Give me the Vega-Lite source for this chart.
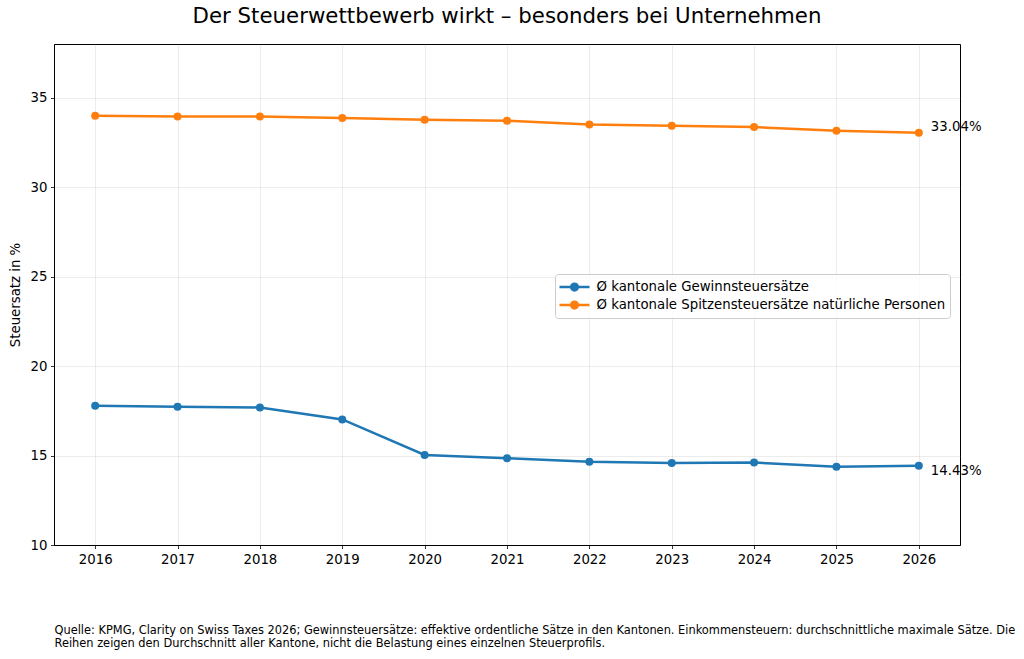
{
  "$schema": "https://vega.github.io/schema/vega-lite/v6.json",
  "width": 906,
  "height": 501,
  "autosize": {"type": "none"},
  "padding": {"left": 54, "top": 44, "right": 64, "bottom": 114},
  "background": "white",
  "title": {
    "text": "Der Steuerwettbewerb wirkt – besonders bei Unternehmen",
    "fontSize": 21.3,
    "font": "DejaVu Sans",
    "fontWeight": "normal",
    "anchor": "middle",
    "baseline": "alphabetic",
    "offset": 0,
    "color": "#000000"
  },
  "config": {
    "font": "DejaVu Sans",
    "view": {"stroke": "#000000", "strokeWidth": 1},
    "axis": {
      "domainColor": "#000000",
      "domainWidth": 1,
      "tickColor": "#000000",
      "tickWidth": 0.8,
      "tickSize": 3.5,
      "labelPadding": 3.5,
      "labelColor": "#000000",
      "titleColor": "#000000",
      "labelFontSize": 13.3,
      "titleFontSize": 13.3,
      "titleFontWeight": "normal",
      "labelFont": "DejaVu Sans",
      "titleFont": "DejaVu Sans",
      "gridColor": "#b0b0b0",
      "gridOpacity": 0.3,
      "gridWidth": 0.8
    }
  },
  "data": {
    "values": [
      {"year": 2016, "series": "Ø kantonale Gewinnsteuersätze", "value": 17.78},
      {"year": 2017, "series": "Ø kantonale Gewinnsteuersätze", "value": 17.72},
      {"year": 2018, "series": "Ø kantonale Gewinnsteuersätze", "value": 17.69},
      {"year": 2019, "series": "Ø kantonale Gewinnsteuersätze", "value": 17.02},
      {"year": 2020, "series": "Ø kantonale Gewinnsteuersätze", "value": 15.03},
      {"year": 2021, "series": "Ø kantonale Gewinnsteuersätze", "value": 14.85},
      {"year": 2022, "series": "Ø kantonale Gewinnsteuersätze", "value": 14.65},
      {"year": 2023, "series": "Ø kantonale Gewinnsteuersätze", "value": 14.58},
      {"year": 2024, "series": "Ø kantonale Gewinnsteuersätze", "value": 14.61},
      {"year": 2025, "series": "Ø kantonale Gewinnsteuersätze", "value": 14.38},
      {"year": 2026, "series": "Ø kantonale Gewinnsteuersätze", "value": 14.43},
      {"year": 2016, "series": "Ø kantonale Spitzensteuersätze natürliche Personen", "value": 33.99},
      {"year": 2017, "series": "Ø kantonale Spitzensteuersätze natürliche Personen", "value": 33.95},
      {"year": 2018, "series": "Ø kantonale Spitzensteuersätze natürliche Personen", "value": 33.95},
      {"year": 2019, "series": "Ø kantonale Spitzensteuersätze natürliche Personen", "value": 33.87},
      {"year": 2020, "series": "Ø kantonale Spitzensteuersätze natürliche Personen", "value": 33.77},
      {"year": 2021, "series": "Ø kantonale Spitzensteuersätze natürliche Personen", "value": 33.71},
      {"year": 2022, "series": "Ø kantonale Spitzensteuersätze natürliche Personen", "value": 33.50},
      {"year": 2023, "series": "Ø kantonale Spitzensteuersätze natürliche Personen", "value": 33.43},
      {"year": 2024, "series": "Ø kantonale Spitzensteuersätze natürliche Personen", "value": 33.36},
      {"year": 2025, "series": "Ø kantonale Spitzensteuersätze natürliche Personen", "value": 33.15},
      {"year": 2026, "series": "Ø kantonale Spitzensteuersätze natürliche Personen", "value": 33.04}
    ]
  },
  "encoding": {
    "x": {
      "field": "year",
      "type": "quantitative",
      "scale": {"domain": [2015.5, 2026.5], "nice": false, "zero": false},
      "axis": {
        "values": [2016, 2017, 2018, 2019, 2020, 2021, 2022, 2023, 2024, 2025, 2026],
        "format": "d",
        "grid": true,
        "title": [
          "Quelle: KPMG, Clarity on Swiss Taxes 2026; Gewinnsteuersätze: effektive ordentliche Sätze in den Kantonen. Einkommensteuern: durchschnittliche maximale Sätze. Die",
          "Reihen zeigen den Durchschnitt aller Kantone, nicht die Belastung eines einzelnen Steuerprofils."
        ],
        "titleAnchor": "start",
        "titleAlign": "left",
        "titleBaseline": "top",
        "titleFontSize": 11.4,
        "titleLineHeight": 13,
        "titlePadding": 59,
        "titleLimit": 1000
      }
    },
    "y": {
      "field": "value",
      "type": "quantitative",
      "scale": {"domain": [10, 38], "nice": false, "zero": false},
      "axis": {
        "values": [10, 15, 20, 25, 30, 35],
        "grid": true,
        "title": "Steuersatz in %",
        "titlePadding": 8
      }
    }
  },
  "layer": [
    {
      "mark": {"type": "line", "strokeWidth": 2.5},
      "encoding": {
        "color": {
          "field": "series",
          "type": "nominal",
          "scale": {
            "domain": ["Ø kantonale Gewinnsteuersätze", "Ø kantonale Spitzensteuersätze natürliche Personen"],
            "range": ["#1f77b4", "#ff7f0e"]
          },
          "legend": {
            "title": null,
            "orient": "none",
            "legendX": 501,
            "legendY": 230,
            "symbolType": "M-2,0H2M0.45,0A0.45,0.45,0,1,1,-0.45,0A0.45,0.45,0,1,1,0.45,0Z",
            "symbolSize": 225,
            "symbolStrokeWidth": 2.5,
            "symbolOffset": 6.5,
            "labelFontSize": 13.3,
            "labelFont": "DejaVu Sans",
            "labelColor": "#000000",
            "labelOffset": 13,
            "labelLimit": 500,
            "rowPadding": -2,
            "padding": 4,
            "strokeColor": "#cccccc",
            "fillColor": "rgba(255,255,255,0.8)",
            "cornerRadius": 3,
            "encode": {
              "symbols": {
                "update": {
                  "fill": {"scale": "color", "field": "value"},
                  "stroke": {"scale": "color", "field": "value"},
                  "opacity": {"value": 1}
                }
              }
            }
          }
        }
      }
    },
    {
      "mark": {"type": "point", "filled": true, "size": 64, "opacity": 1},
      "encoding": {
        "color": {
          "field": "series",
          "type": "nominal",
          "scale": {
            "domain": ["Ø kantonale Gewinnsteuersätze", "Ø kantonale Spitzensteuersätze natürliche Personen"],
            "range": ["#1f77b4", "#ff7f0e"]
          }
        }
      }
    },
    {
      "transform": [
        {"filter": "datum.year == 2026 && datum.series == 'Ø kantonale Gewinnsteuersätze'"},
        {"calculate": "format(datum.value, '.2f') + '%'", "as": "label"}
      ],
      "mark": {"type": "text", "align": "left", "baseline": "middle", "dx": 12, "dy": 5, "fontSize": 13.3, "color": "#000000"},
      "encoding": {"text": {"field": "label"}}
    },
    {
      "transform": [
        {"filter": "datum.year == 2026 && datum.series == 'Ø kantonale Spitzensteuersätze natürliche Personen'"},
        {"calculate": "format(datum.value, '.2f') + '%'", "as": "label"}
      ],
      "mark": {"type": "text", "align": "left", "baseline": "middle", "dx": 12, "dy": -5.6, "fontSize": 13.3, "color": "#000000"},
      "encoding": {"text": {"field": "label"}}
    }
  ]
}
